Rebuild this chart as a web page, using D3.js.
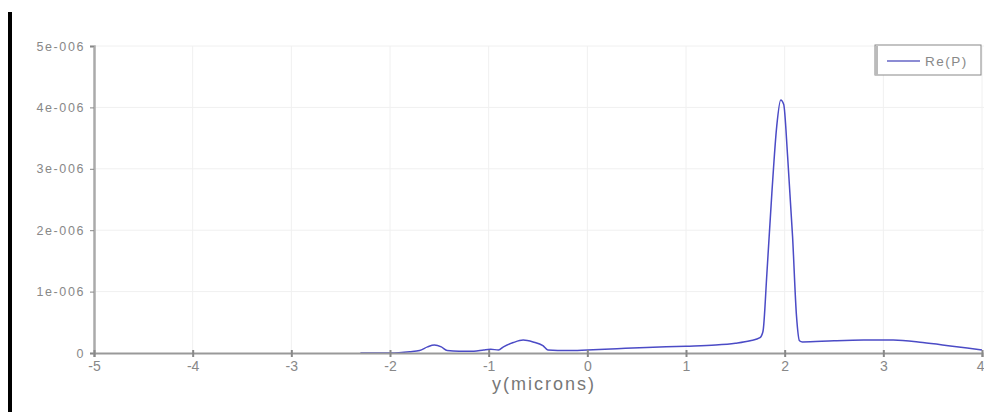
<!DOCTYPE html>
<html>
<head>
<meta charset="utf-8">
<script src="https://cdn.jsdelivr.net/npm/d3@7"></script>
<style>
  html, body { margin: 0; padding: 0; background: #fff; }
  svg { display: block; }
  text { font-family: "Liberation Sans", Arial, sans-serif; }
</style>
</head>
<body>
<svg id="chart" width="984" height="412"></svg>
<script>
// Re(P) profile across y, values in units of 1e-6
const yPos = [-2.3, -2.0, -1.8, -1.7, -1.62, -1.55, -1.48, -1.42, -1.3, -1.15, -1.05, -0.98, -0.9, -0.85,
  -0.75, -0.65, -0.55, -0.45, -0.4, -0.2, 0.0, 0.3, 0.6, 1.0, 1.3, 1.5, 1.65, 1.75, 1.78, 1.82, 1.87,
  1.92, 1.96, 1.99, 2.03, 2.08, 2.12, 2.15, 2.18, 2.5, 2.8, 3.1, 3.4, 3.7, 4.0];
const reP = [0.0, 0.0, 0.02, 0.04, 0.1, 0.13, 0.1, 0.04, 0.03, 0.03, 0.05, 0.06, 0.05, 0.1,
  0.17, 0.21, 0.18, 0.12, 0.05, 0.04, 0.05, 0.07, 0.09, 0.11, 0.13, 0.16, 0.2, 0.25, 0.35, 1.3, 2.6,
  3.7, 4.12, 4.05, 3.2, 1.9, 0.6, 0.2, 0.18, 0.2, 0.21, 0.21, 0.17, 0.11, 0.05];
const xTicks = [-5, -4, -3, -2, -1, 0, 1, 2, 3, 4];
const yTicks = [0, 1, 2, 3, 4, 5];
const yTickLabels = ["0", "1e-006", "2e-006", "3e-006", "4e-006", "5e-006"];
const seriesName = "Re(P)";
const xTitle = "y(microns)";

const svg = d3.select("#chart");
const x = d3.scaleLinear().domain([-5, 4]).range([94, 982]);
const y = d3.scaleLinear().domain([0, 5]).range([353, 46]);

// left frame bar
svg.append("rect").attr("x", 8).attr("y", 12).attr("width", 4).attr("height", 400).attr("fill", "#000");

// grid
const grid = svg.append("g");
grid.selectAll("line.v").data(xTicks.slice(1)).join("line")
  .attr("x1", d => x(d)).attr("x2", d => x(d)).attr("y1", y(5)).attr("y2", y(0))
  .attr("stroke", "#f0f0f0").attr("stroke-width", 1);
grid.selectAll("line.h").data(yTicks.slice(1)).join("line")
  .attr("x1", x(-5)).attr("x2", 984).attr("y1", d => y(d)).attr("y2", d => y(d))
  .attr("stroke", "#f0f0f0").attr("stroke-width", 1);

// curve
const line = d3.line().x((d, i) => x(yPos[i])).y(d => y(d)).curve(d3.curveMonotoneX);
svg.append("path").datum(reP).attr("d", line)
  .attr("fill", "none").attr("stroke", "#4b4bc6").attr("stroke-width", 1.5);

// axes
const yAxis = d3.axisLeft(y).tickValues(yTicks).tickFormat((d, i) => yTickLabels[i])
  .tickSize(4).tickPadding(5);
const gy = svg.append("g").attr("transform", `translate(${x(-5)},0)`).call(yAxis);
gy.select(".domain").attr("stroke", "#aaa").attr("stroke-width", 2.5);
gy.selectAll(".tick line").attr("stroke", "#888");
gy.selectAll(".tick text").attr("fill", "#888")
  .style("font-size", "12.5px").style("letter-spacing", "1.6px");

const xAxis = d3.axisBottom(x).tickValues(xTicks).tickFormat(d => String(d))
  .tickSize(4).tickPadding(4);
const gx = svg.append("g").attr("transform", `translate(0,${y(0)})`).call(xAxis);
gx.select(".domain").attr("stroke", "#999").attr("stroke-width", 2);
gx.selectAll(".tick line").attr("stroke", "#888").attr("stroke-width", 2).attr("y1", -3);
gx.selectAll(".tick text").attr("fill", "#888").style("font-size", "14px");
// keep the last label inside the right edge
gx.selectAll(".tick text").filter(d => d === xTicks[xTicks.length - 1])
  .attr("text-anchor", "end").attr("dx", 2);

svg.append("text").attr("x", 544).attr("y", 390).attr("text-anchor", "middle")
  .attr("fill", "#777").style("font-size", "18px").style("letter-spacing", "2px").text(xTitle);

// legend
const lg = svg.append("g");
lg.append("rect").attr("x", 875).attr("y", 45).attr("width", 106).attr("height", 30)
  .attr("fill", "#fff").attr("stroke", "#888").attr("stroke-width", 1);
lg.append("line").attr("x1", 876.5).attr("x2", 876.5).attr("y1", 46).attr("y2", 75)
  .attr("stroke", "#bbb").attr("stroke-width", 3);
lg.append("line").attr("x1", 887).attr("x2", 920).attr("y1", 61).attr("y2", 61)
  .attr("stroke", "#8c8cd4").attr("stroke-width", 2);
lg.append("text").attr("x", 925).attr("y", 65.5).attr("fill", "#888")
  .style("font-size", "13.5px").style("letter-spacing", "1.5px").text(seriesName);
</script>
</body>
</html>
